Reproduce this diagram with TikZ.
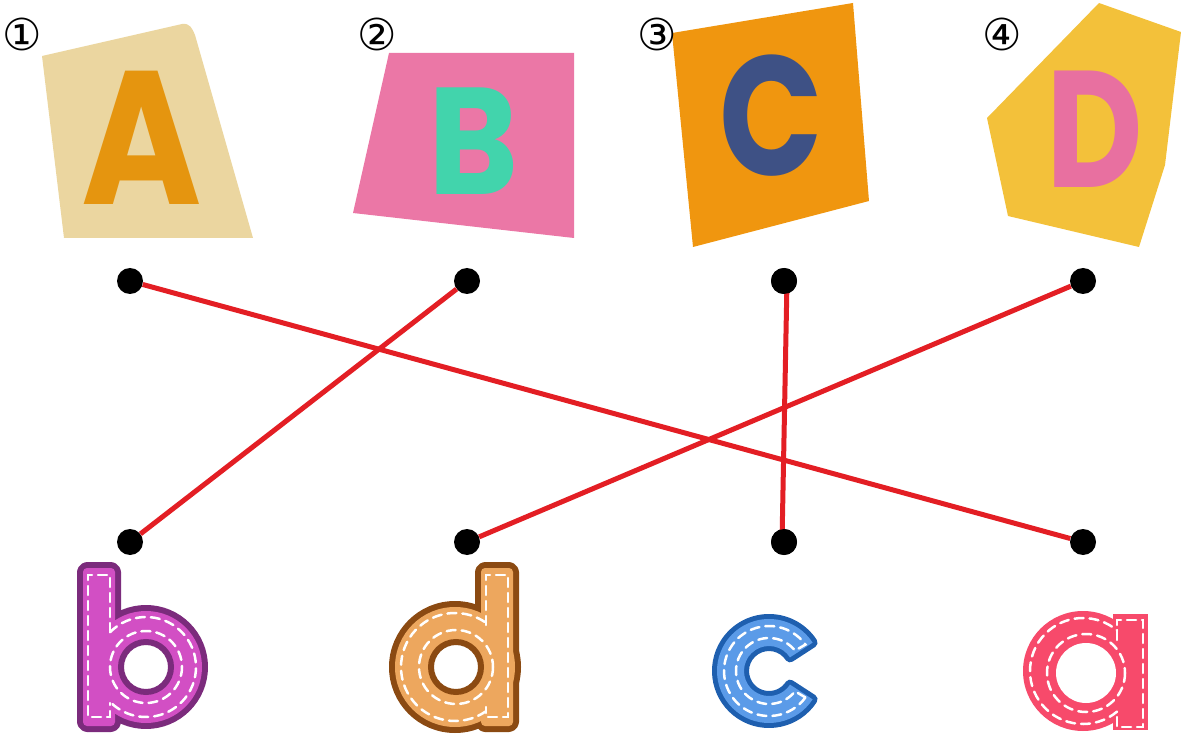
\documentclass[tikz,border=0pt]{standalone}
\usepackage{fontspec}
\setmainfont{Poppins}
\newfontfamily\dejavu{DejaVu Sans}
\definecolor{bgA}{HTML}{EBD6A0}
\definecolor{fgA}{HTML}{E5950F}
\definecolor{bgB}{HTML}{EB77A6}
\definecolor{fgB}{HTML}{42D4AC}
\definecolor{bgC}{HTML}{F0960F}
\definecolor{fgC}{HTML}{3E5185}
\definecolor{bgD}{HTML}{F3C13A}
\definecolor{fgD}{HTML}{E870A0}
\definecolor{lineRed}{HTML}{E31E24}
\definecolor{ocB}{HTML}{7B2B7C}
\definecolor{fcB}{HTML}{D24FC4}
\definecolor{ocD}{HTML}{8B4A12}
\definecolor{fcD}{HTML}{EDA75E}
\definecolor{ocC}{HTML}{1E5FAF}
\definecolor{fcC}{HTML}{5B9BE8}
\definecolor{fcA}{HTML}{F74A6B}
\begin{document}
\begin{tikzpicture}[x=1pt,y=-1pt,
  dot/.style={circle,fill=black,minimum size=26pt,inner sep=0pt},
  match/.style={draw=lineRed,line width=5pt},
  num/.style={font=\dejavu\fontsize{44}{44}\selectfont,inner sep=0pt},
  bigletter/.style={anchor=base,inner sep=0pt,font=\bfseries\fontsize{#1}{#1}\selectfont},
  rim/.style={line width=12pt,line join=round},
  stitch/.style={draw=white,line width=2.5pt,dash pattern=on 9pt off 6pt,line cap=round}]
\useasboundingbox (0,0) rectangle (1181,735);
% top cards
\fill[bgA] (42,56) -- (182,24) .. controls (190,23) and (192,28) .. (195,35) -- (253,238) -- (64,238) -- cycle;
\node[bigletter=190,text=fgA,xscale=0.86] (lA) at (142,205) {A};
\fill[bgB] (389,53) -- (574,53) -- (574,238) -- (353,213) -- cycle;
\node[bigletter=152,text=fgB,xscale=0.9] (lB) at (474,195) {B};
\fill[bgC] (672,33) -- (853,3) -- (869,201) -- (693,247) -- cycle;
\node[bigletter=170,text=fgC,xscale=0.8] (lC) at (771,176) {C};
\fill[bgD] (1099,3) -- (1181,32) -- (1165,165) -- (1139,247) -- (1008,216) -- (987,118) -- cycle;
\node[bigletter=166,text=fgD,xscale=0.8] (lD) at (1095,188) {D};
% numbers
\node[num] (n1) at (22,34) {①};
\node[num] (n2) at (377,34) {②};
\node[num] (n3) at (657,34) {③};
\node[num] (n4) at (1002,34) {④};
% dots
\node[dot] (t1) at (130,281) {};
\node[dot] (t2) at (467,281) {};
\node[dot] (t3) at (784,281) {};
\node[dot] (t4) at (1083,281) {};
\node[dot] (b1) at (130,542) {};
\node[dot] (b2) at (467,542) {};
\node[dot] (b3) at (784,542) {};
\node[dot] (b4) at (1083,542) {};
\draw[match] (t1) -- (b4);
\draw[match] (t2) -- (b1);
\draw[match] ([xshift=3pt]t3.center) -- ([xshift=-2pt]b3.center);
\draw[match] (t4) -- (b2);
\node[dot] at (t3) {};
\node[dot] at (b3) {};
% letter b
\draw[ocB,rim,rounded corners=4pt] (83,568) rectangle (115,726);
\draw[ocB,rim] (146,667) circle (56);
\fill[fcB,rounded corners=4pt] (83,568) rectangle (115,726);
\fill[fcB] (146,667) circle (56);
\draw[ocB,line width=6pt,fill=white] (146,667) circle (25);
\draw[stitch] (110,632) -- (110,575) -- (88,575) -- (88,717) -- (110,717) -- (110,703);
\draw[stitch] (146,667) ++(-136:50) arc[start angle=-136,end angle=136,radius=50];
\draw[stitch] (146,667) circle (36);
% letter d
\draw[ocD,rim,rounded corners=4pt] (481,568) rectangle (513,726);
\draw[ocD,rim] (455,667) circle (60);
\fill[fcD,rounded corners=4pt] (481,568) rectangle (513,726);
\fill[fcD] (455,667) circle (60);
\draw[ocD,line width=6pt,fill=white] (456,667) circle (25);
\draw[stitch] (486,625) -- (486,575) -- (508,575) -- (508,717) -- (486,717) -- (486,707);
\draw[stitch] (455,667) ++(55:54) arc[start angle=55,end angle=305,radius=54];
\draw[stitch] (456,667) circle (37);
% letter c
\begin{scope}[shift={(769,671)}]
\draw[ocC,line width=10pt,line join=round] (33:52) arc[start angle=33,end angle=327,radius=52] -- (327:25) arc[start angle=327,end angle=33,radius=25] -- cycle;
\fill[fcC] (33:52) arc[start angle=33,end angle=327,radius=52] -- (327:25) arc[start angle=327,end angle=33,radius=25] -- cycle;
\draw[stitch] (36:45) arc[start angle=36,end angle=324,radius=45] -- (322:33) arc[start angle=322,end angle=38,radius=33] -- cycle;
\end{scope}
% letter a
\fill[fcA] (1113,614) rectangle (1148,730);
\fill[fcA] (1083,671) circle (60);
\fill[white] (1086,673) circle (30);
\draw[stitch] (1117,640) -- (1117,620) -- (1143,620) -- (1143,727) -- (1117,727) -- (1117,715);
\draw[stitch] (1083,671) ++(50:53) arc[start angle=50,end angle=310,radius=53];
\draw[stitch] (1086,673) circle (39);
\end{tikzpicture}
\end{document}
